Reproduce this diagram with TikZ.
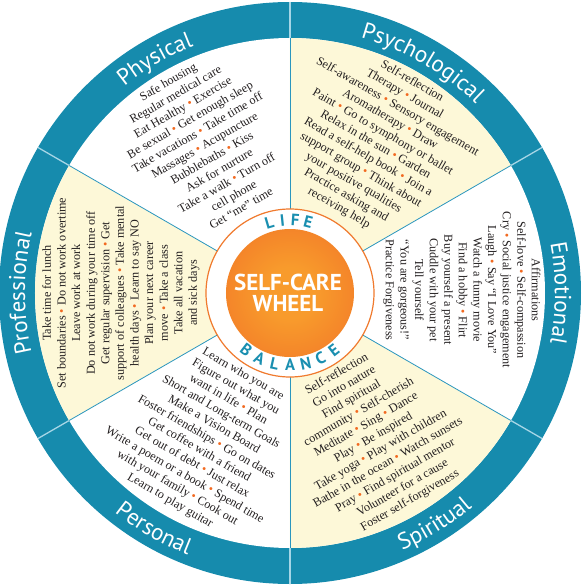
\documentclass[tikz,border=0pt]{standalone}
\usepackage{fontspec}
\setmainfont{Liberation Serif}
\newfontfamily\labelfont{PT Sans}
\usetikzlibrary{decorations.text}

\definecolor{ringblue}{HTML}{168BAD}
\definecolor{ringsep}{HTML}{A6D6E6}
\definecolor{divline}{HTML}{2A96BE}
\definecolor{cream}{HTML}{FDF8D8}
\definecolor{dotorange}{HTML}{F26A21}
\definecolor{inktext}{HTML}{231F20}
\definecolor{glowin}{HTML}{F89B2C}
\definecolor{glowout}{HTML}{EE6125}
\definecolor{rimorange}{HTML}{F07A2E}
\definecolor{wordteal}{HTML}{1A8FB0}

\pgfdeclareradialshading{diskglow}{\pgfpoint{0bp}{0bp}}%
  {color(0bp)=(glowin); color(10bp)=(glowin); color(50bp)=(glowout)}

\newcommand\bul{{\color{dotorange}\textbullet}}
\newcommand\ringfont{\labelfont\fontsize{23}{23}\selectfont}

\tikzset{
  itemtext/.style={font=\fontsize{12.2}{14.6}\selectfont, text=inktext,
    align=center, inner sep=0pt},
  hubletter/.style={font=\labelfont\bfseries\fontsize{16.5}{16.5}\selectfont,
    text=wordteal, inner sep=0pt},
  divider/.style={draw=divline, line width=0.8pt},
  ringcut/.style={draw=ringsep, line width=1.3pt},
}

\begin{document}
\begin{tikzpicture}[x=1pt,y=1pt]
\useasboundingbox (-290,-294) rectangle (297,293);

% outer band and white face
\fill[ringblue] (0,0) circle (291);
\fill[white] (0,0) circle (255);

% cream sectors
\foreach \a in {30,150,270}
  \fill[cream] (0,0) -- (\a:255) arc[start angle=\a, end angle=\a+60, radius=255] -- cycle;

% sector dividers and band cuts
\foreach \a in {30,90,150,210,270,330} {
  \draw[divider] (\a:84) -- (\a:255);
  \draw[ringcut] (\a:255) -- (\a:291);
}

% category names in the band
\path[decorate, decoration={text along path, text align=center, text color=white,
  text={|\ringfont|Physical}}] (160:265) arc[start angle=160, end angle=80, radius=265];
\path[decorate, decoration={text along path, text align=center, text color=white,
  text={|\ringfont|Psychological}}] (100:265) arc[start angle=100, end angle=20, radius=265];
\path[decorate, decoration={text along path, text align=center, text color=white,
  text={|\ringfont|Emotional}}] (40:265) arc[start angle=40, end angle=-40, radius=265];
\path[decorate, decoration={text along path, text align=center, text color=white,
  text={|\ringfont|Professional}}] (220:265) arc[start angle=220, end angle=140, radius=265];
\path[decorate, decoration={text along path, text align=center, text color=white,
  text={|\ringfont|Spiritual}}] (-98:281) arc[start angle=-98, end angle=-18, radius=281];
\path[decorate, decoration={text along path, text align=center, text color=white,
  text={|\ringfont|Personal}}] (-160:281) arc[start angle=-160, end angle=-80, radius=281];

% hub
\filldraw[fill=white, draw=rimorange, line width=1.2pt] (0,0) circle (84);
\shade[shading=diskglow] (0,0) circle (64);
\node[font=\labelfont\bfseries\fontsize{23}{20.5}\selectfont, text=white,
  align=center, inner sep=0pt] (hubtitle) at (-2,0) {SELF-CARE\\WHEEL};

\foreach \ch/\a [count=\i] in {L/106.5, I/96, F/86, E/75.5}
  \node[hubletter, rotate=\a-90] (life\i) at (\a:73) {\ch};
\foreach \ch/\a [count=\i] in {B/-127.5, A/-115, L/-102.5, A/-90, N/-77.5, C/-65, E/-52.5}
  \node[hubletter, rotate=\a+90] (bal\i) at (\a:72) {\ch};

% lists of activities
\node[itemtext, rotate=30] (physical) at (120:171) {Safe housing\\
Regular medical care\\
Eat Healthy \bul{} Exercise\\
Be sexual \bul{} Get enough sleep\\
Take vacations \bul{} Take time off\\
Massages \bul{} Acupuncture\\
Bubblebaths \bul{} Kiss\\
Ask for nurture\\
Take a walk \bul{} Turn off\\
cell phone\\
Get “me” time};

\node[itemtext, rotate=-30] (psychological) at (60:171) {Self-reflection\\
Therapy \bul{} Journal\\
Self-awareness \bul{} Sensory engagement\\
Aromatherapy \bul{} Draw\\
Paint \bul{} Go to symphony or ballet\\
Relax in the sun \bul{} Garden\\
Read a self-help book \bul{} Join a\\
support group \bul{} Think about\\
your positive qualities\\
Practice asking and\\
receiving help};

\node[itemtext, rotate=-90] (emotional) at (1:172) {Affirmations\\
Self-love \bul{} Self-compassion\\
Cry \bul{} Social justice engagement\\
Laugh \bul{} Say “I Love You”\\
Watch a funny movie\\
Find a hobby \bul{} Flirt\\
Buy yourself a present\\
Cuddle with your pet\\
Tell yourself\\
“You are gorgeous!”\\
Practice Forgiveness};

\node[itemtext, rotate=30] (spiritual) at (-60:167) {Self-reflection\\
Go into nature\\
Find spiritual\\
community \bul{} Self-cherish\\
Meditate \bul{} Sing \bul{} Dance\\
Play \bul{} Be inspired\\
Take yoga \bul{} Play with children\\
Bathe in the ocean \bul{} Watch sunsets\\
Pray \bul{} Find spiritual mentor\\
Volunteer for a cause\\
Foster self-forgiveness};

\node[itemtext, rotate=-30] (personal) at (-120:167) {Learn who you are\\
Figure out what you\\
want in life \bul{} Plan\\
Short and Long-term Goals\\
Make a Vision Board\\
Foster friendships \bul{} Go on dates\\
Get coffee with a friend\\
Get out of debt \bul{} Just relax\\
Write a poem or a book \bul{} Spend time\\
with your family \bul{} Cook out\\
Learn to play guitar};

\node[itemtext, rotate=90] (professional) at (180:169) {Take time for lunch\\
Set boundaries \bul{} Do not work overtime\\
Leave work at work\\
Do not work during your time off\\
Get regular supervision \bul{} Get\\
support of colleagues \bul{} Take mental\\
health days \bul{} Learn to say NO\\
Plan your next career\\
move \bul{} Take a class\\
Take all vacation\\
and sick days};
\end{tikzpicture}
\end{document}
